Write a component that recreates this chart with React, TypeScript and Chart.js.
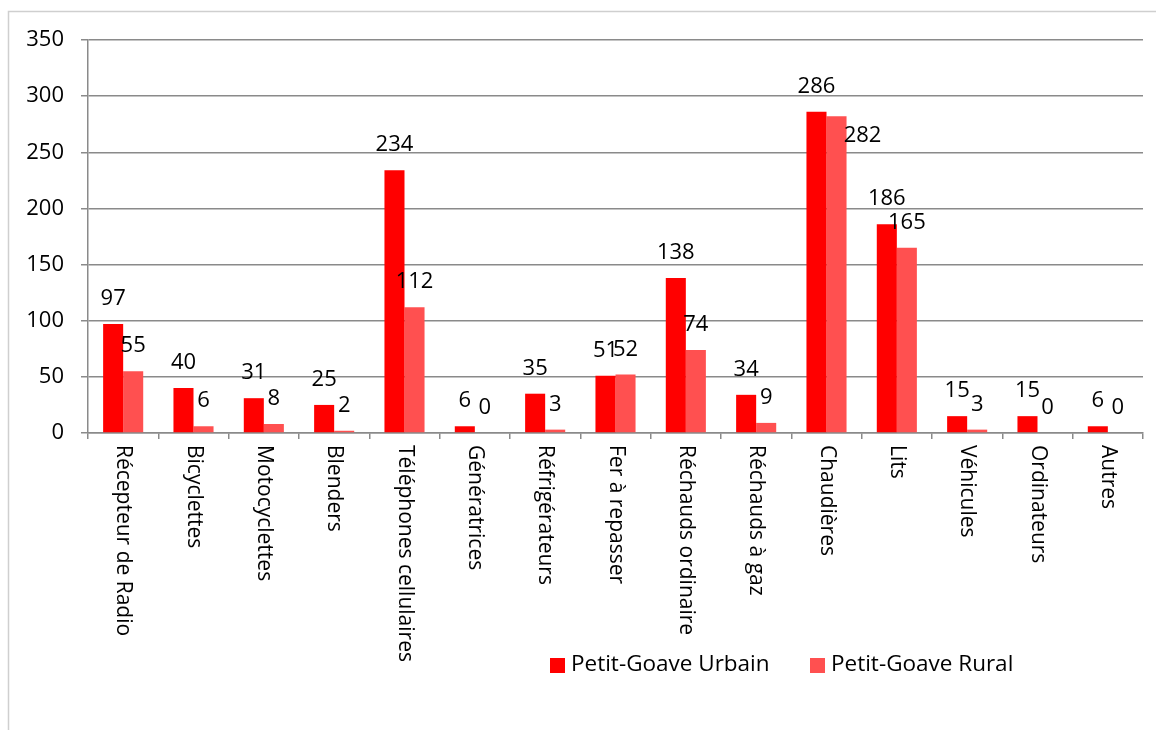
import React, { useEffect, useRef } from 'react';
import { Chart, registerables } from 'chart.js';

Chart.register(...registerables);

const categories = [
  'Récepteur de Radio',
  'Bicyclettes',
  'Motocyclettes',
  'Blenders',
  'Téléphones cellulaires',
  'Génératrices',
  'Réfrigérateurs',
  'Fer à repasser',
  'Réchauds ordinaire',
  'Réchauds à gaz',
  'Chaudières',
  'Lits',
  'Véhicules',
  'Ordinateurs',
  'Autres',
];
const urbainValues = [97, 40, 31, 25, 234, 6, 35, 51, 138, 34, 286, 186, 15, 15, 6];
const ruralValues = [55, 6, 8, 2, 112, 0, 3, 52, 74, 9, 282, 165, 3, 0, 0];
const seriesNames = ['Petit-Goave Urbain', 'Petit-Goave Rural'];
const yMin = 0;
const yMax = 350;
const yStep = 50;

const COLORS = ['#FF0000', '#FF5050'];
const FONT = "'Open Sans', sans-serif";
const GRID = '#8a8a8a';

const framePlugin = {
  id: 'frame',
  beforeDraw(chart: any) {
    const ctx = chart.ctx;
    ctx.save();
    ctx.fillStyle = '#ffffff';
    ctx.fillRect(0, 0, chart.width, chart.height);
    ctx.strokeStyle = '#cfcfcf';
    ctx.lineWidth = 1.5;
    ctx.beginPath();
    ctx.moveTo(8.5, chart.height);
    ctx.lineTo(8.5, 11.5);
    ctx.lineTo(chart.width, 11.5);
    ctx.stroke();
    ctx.restore();
  },
};

const xLabelsPlugin = {
  id: 'xLabels',
  afterDraw(chart: any) {
    const ctx = chart.ctx;
    const xs = chart.scales.x;
    const top = chart.chartArea.bottom + 12;
    ctx.save();
    ctx.font = `21px ${FONT}`;
    ctx.fillStyle = '#000';
    ctx.textAlign = 'left';
    ctx.textBaseline = 'middle';
    categories.forEach((c, i) => {
      const x = xs.getPixelForValue(i);
      ctx.save();
      ctx.translate(x, top);
      ctx.rotate(Math.PI / 2);
      ctx.fillText(c, 0, 0);
      ctx.restore();
    });
    ctx.restore();
  },
};

// label adjustments (dataset, index) -> [dx, dy] for overlapping labels
const labelShift: Record<string, [number, number]> = {
  '1-10': [26, 45],
};

const dataLabelsPlugin = {
  id: 'dataLabels',
  afterDatasetsDraw(chart: any) {
    const ctx = chart.ctx;
    ctx.save();
    ctx.font = `22px ${FONT}`;
    ctx.fillStyle = '#000';
    ctx.textAlign = 'center';
    ctx.textBaseline = 'alphabetic';
    chart.data.datasets.forEach((ds: any, di: number) => {
      const meta = chart.getDatasetMeta(di);
      meta.data.forEach((bar: any, i: number) => {
        const sh = labelShift[`${di}-${i}`] || [0, 0];
        ctx.fillText(String(ds.data[i]), bar.x + sh[0], bar.y - 19 + sh[1]);
      });
    });
    ctx.restore();
  },
};

const legendPlugin = {
  id: 'customLegend',
  afterDraw(chart: any) {
    const ctx = chart.ctx;
    ctx.save();
    ctx.font = `22.5px ${FONT}`;
    ctx.textAlign = 'left';
    ctx.textBaseline = 'middle';
    const y = 665;
    const starts = [550, 810];
    seriesNames.forEach((n, i) => {
      ctx.fillStyle = COLORS[i];
      ctx.fillRect(starts[i], y - 7, 15, 15);
      ctx.fillStyle = '#000';
      ctx.fillText(n, starts[i] + 21, y);
    });
    ctx.restore();
  },
};

export default function App() {
  const ref = useRef<HTMLCanvasElement>(null);
  useEffect(() => {
    if (!ref.current) return;
    const chart = new Chart(ref.current, {
      type: 'bar',
      data: {
        labels: categories,
        datasets: [
          { label: seriesNames[0], data: urbainValues, backgroundColor: COLORS[0], categoryPercentage: 0.57, barPercentage: 1 },
          { label: seriesNames[1], data: ruralValues, backgroundColor: COLORS[1], categoryPercentage: 0.57, barPercentage: 1 },
        ],
      },
      options: {
        animation: false,
        responsive: false,
        maintainAspectRatio: false,
        layout: { padding: { left: 0, right: 13, top: 40, bottom: 0 } },
        plugins: { legend: { display: false }, tooltip: { enabled: false } },
        scales: {
          x: {
            type: 'category',
            offset: true,
            grid: { drawOnChartArea: false, drawTicks: true, tickLength: 6, color: GRID, lineWidth: 1.5, offset: true },
            border: { color: GRID, width: 1.5 },
            ticks: { display: false },
            afterFit(s: any) { s.height = 297; },
          },
          y: {
            min: yMin,
            max: yMax,
            ticks: { stepSize: yStep, font: { family: FONT, size: 22 }, color: '#000', padding: 17 },
            grid: { color: GRID, lineWidth: 1.5, tickLength: 7 },
            border: { color: GRID, width: 1.5 },
            afterFit(s: any) { s.width = 88; },
          },
        },
      },
      plugins: [framePlugin, dataLabelsPlugin, xLabelsPlugin, legendPlugin],
    } as any);
    return () => chart.destroy();
  }, []);
  return (
    <div style={{ position: 'absolute', left: 0, top: 0, width: 1156, height: 730 }}>
      <canvas ref={ref} width={1156} height={730} style={{ display: 'block', width: 1156, height: 730 }} />
    </div>
  );
}
